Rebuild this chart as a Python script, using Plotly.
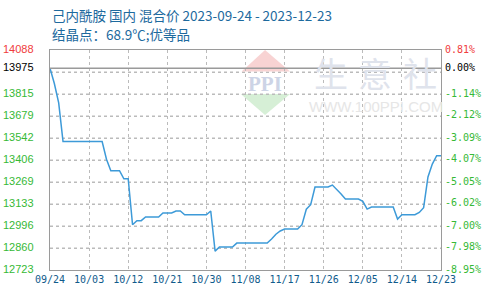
import pandas as pd
import plotly.graph_objects as go

# ---------------- data ----------------
start_date = "2023-09-24"
end_date = "2023-12-23"

prices = [
    13975, 13880, 13760, 13520, 13520, 13520, 13520, 13520, 13520, 13520,   # 09/24 - 10/03
    13520, 13520, 13520, 13410, 13339, 13339, 13339, 13289, 13289, 13004,   # 10/04 - 10/13
    13029, 13029, 13052, 13052, 13052, 13052, 13077, 13077, 13077, 13089,   # 10/14 - 10/23
    13089, 13066, 13066, 13066, 13066, 13066, 13066, 13089, 12840, 12866,   # 10/24 - 11/02
    12866, 12866, 12866, 12890, 12890, 12890, 12890, 12890, 12890, 12890,   # 11/03 - 11/12
    12890, 12915, 12945, 12965, 12977, 12977, 12977, 12977, 13004, 13100,   # 11/13 - 11/22
    13128, 13238, 13238, 13238, 13238, 13250, 13225, 13195, 13163, 13163,   # 11/23 - 12/02
    13163, 13163, 13149, 13101, 13114, 13114, 13114, 13114, 13114, 13114,   # 12/03 - 12/12
    13039, 13066, 13066, 13066, 13066, 13080, 13110, 13300, 13380, 13432,   # 12/13 - 12/22
    13432,                                                                  # 12/23
]

left_tick_vals = [14088, 13975, 13815, 13679, 13542, 13406, 13269, 13133, 12996, 12860, 12723]
left_tick_text = ["14088", "13975", "13815", "13679", "13542", "13406", "13269", "13133",
                  "12996", "12860", "12723"]
right_tick_text = ["0.81%", "0.00%", "-1.14%", "-2.12%", "-3.09%", "-4.07%", "-5.05%",
                   "-6.02%", "-7.00%", "-7.98%", "-8.95%"]
grid_vals = [14088, 13951.5, 13815, 13678.5, 13542, 13405.5, 13269, 13132.5, 12996,
             12859.5, 12723]

title_line1 = "己内酰胺 国内 混合价 2023-09-24 - 2023-12-23"
title_line2 = "结晶点：68.9℃;优等品"

# ---------------- build ----------------
dates = pd.date_range(start_date, end_date, freq="D")
assert len(dates) == len(prices)
tick_dates = list(dates[::9])

RED = "#f03c3c"
GREEN = "#36b936"
BLACK = "#000000"
TITLE_C = "#1d6a9e"
LINE_C = "#3d9ad8"
GRID_C = "#bbbbbb"

def label_color(i):
    return RED if i == 0 else (BLACK if i == 1 else GREEN)

yr = [min(left_tick_vals), max(left_tick_vals)]

fig = go.Figure()
fig.add_trace(go.Scatter(x=dates, y=prices, mode="lines",
                         line=dict(color=LINE_C, width=1.5),
                         hoverinfo="skip"))

fig.update_layout(
    width=490, height=300,
    margin=dict(l=50, r=49, t=50, b=30),
    paper_bgcolor="white", plot_bgcolor="white",
    showlegend=False,
    xaxis=dict(
        range=[dates[0], dates[-1]],
        tickmode="array", tickvals=tick_dates, tickformat="%m/%d",
        showgrid=True, gridcolor=GRID_C, gridwidth=1, griddash="dot",
        showline=True, linecolor="#9a9a9a", linewidth=1, mirror=True,
        ticks="", zeroline=False,
        tickfont=dict(family="DejaVu Sans Mono", size=10, color="#105b8c"),
    ),
    yaxis=dict(
        range=yr, tickmode="array", tickvals=grid_vals, showticklabels=False,
        showgrid=True, gridcolor=GRID_C, gridwidth=1, griddash="dot",
        showline=True, linecolor="#9a9a9a", linewidth=1, mirror=True,
        ticks="", zeroline=False,
    ),
)

# horizontal dotted grid drawn as shapes as well (reinforces the axis grid)
for gv in grid_vals[1:-1]:
    fig.add_shape(type="line", xref="paper", x0=0, x1=1, yref="y", y0=gv, y1=gv,
                  line=dict(color=GRID_C, width=1, dash="dot"), layer="below")

# y labels on both sides
for i, (v, lt, rt) in enumerate(zip(left_tick_vals, left_tick_text, right_tick_text)):
    fig.add_annotation(text=lt, xref="paper", yref="y", x=0, y=v, xanchor="right",
                       yanchor="middle", xshift=-14, yshift=1, showarrow=False,
                       font=dict(family="Liberation Sans", size=11, color=label_color(i)))
    fig.add_annotation(text=rt, xref="paper", yref="y", x=1, y=v, xanchor="left",
                       yanchor="middle", xshift=2, yshift=1, showarrow=False,
                       font=dict(family="DejaVu Sans Mono", size=10, color=label_color(i)))

# base-price reference line
fig.add_shape(type="line", xref="paper", x0=0, x1=1, yref="y",
              y0=prices[0], y1=prices[0], line=dict(color="#9a9a9a", width=1.5),
              layer="above")

# watermark logo (paper coords)
fig.add_shape(type="path", xref="paper", yref="paper",
              path="M 0.55 1.0 L 0.614 0.902 L 0.49 0.902 Z",
              fillcolor="#f8d3d3", line=dict(width=0), layer="below")
fig.add_shape(type="path", xref="paper", yref="paper",
              path="M 0.488 0.800 L 0.614 0.800 L 0.55 0.705 Z",
              fillcolor="#d6efd6", line=dict(width=0), layer="below")
fig.add_annotation(text="<b>PPI</b>", xref="paper", yref="paper", x=0.55, y=0.846,
                   xanchor="center", yanchor="middle",
                   showarrow=False, font=dict(family="Liberation Serif", size=21, color="#cdd4e6"))
for ch, xp in zip(["生", "意", "社"], [331, 375, 420]):
    fig.add_annotation(text=ch, xref="paper", yref="paper", x=(xp - 50) / 391,
                       y=(270 - 72) / 220, xanchor="center", yanchor="middle",
                       showarrow=False,
                       font=dict(family="Noto Sans CJK SC", size=34, color="#dfe3ec"))
fig.add_annotation(text="WWW.100PPI.COM", xref="paper", yref="paper",
                   x=(376 - 50) / 391, y=(270 - 106) / 220, xanchor="center", yanchor="middle",
                   showarrow=False,
                   font=dict(family="Liberation Sans", size=15, color="#e6e6e6"))

# titles
fig.add_annotation(text=title_line1, xref="paper", yref="paper", x=0, y=(270 - 15) / 220,
                   xanchor="left", yanchor="middle", showarrow=False,
                   font=dict(family="Noto Sans CJK SC", size=13.5, color=TITLE_C))
fig.add_annotation(text=title_line2, xref="paper", yref="paper", x=0, y=(270 - 34) / 220,
                   xanchor="left", yanchor="middle", showarrow=False,
                   font=dict(family="Noto Sans CJK SC", size=13.5, color=TITLE_C))

fig.write_html("out.html")
